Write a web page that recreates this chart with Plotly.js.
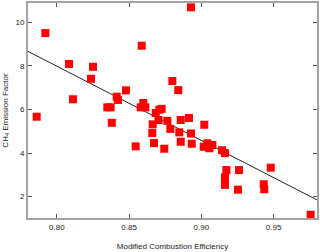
<!DOCTYPE html>
<html>
<head>
<meta charset="utf-8">
<script src="https://cdn.plot.ly/plotly-3.0.1.min.js"></script>
<style>html,body{margin:0;padding:0;background:#fff}#chart{width:320px;height:252px}</style>
</head>
<body>
<div id="chart"></div>
<script>
var mce = [0.786,0.792,0.8084,0.8111,0.825,0.8236,0.8349,0.8372,0.838,0.8414,0.8423,0.8478,0.8545,0.8587,0.858,0.8598,0.8612,0.8663,0.866,0.8672,0.8684,0.8703,0.8709,0.8725,0.8743,0.8764,0.8785,0.8799,0.884,0.8847,0.8857,0.8857,0.8914,0.8928,0.8928,0.8933,0.902,0.9016,0.9041,0.9055,0.9076,0.9143,0.9163,0.9173,0.9163,0.9163,0.926,0.9253,0.9431,0.9435,0.948,0.9756];
var ch4EF = [5.67,9.51,8.09,6.47,7.96,7.41,6.10,6.10,5.39,6.59,6.44,6.88,4.31,8.93,6.10,6.30,6.10,5.32,4.92,4.46,5.84,5.52,5.99,6.03,4.20,5.48,5.11,7.31,6.89,4.95,5.52,4.52,5.61,10.69,4.90,4.43,5.30,4.29,4.45,4.22,4.37,4.13,4.00,3.22,2.89,2.54,3.22,2.32,2.57,2.34,3.33,1.17];
var fitX = [0.78, 0.98];
var fitY = [8.67, 1.85];
var xTicks = [0.80, 0.85, 0.90, 0.95];
var xTickText = ['0.80','0.85','0.90','0.95'];
var yTicks = [2, 4, 6, 8, 10];

var axisCommon = {
  showline: true, linecolor: '#a3a3a3', linewidth: 2, mirror: 'ticks',
  ticks: 'inside', ticklen: 4, tickwidth: 1, tickcolor: '#555',
  showgrid: false, zeroline: false,
  tickfont: {family: 'Liberation Sans, Arial, sans-serif', size: 8, color: '#222'}
};
var data = [
  {x: fitX, y: fitY, mode: 'lines', type: 'scatter', line: {color: '#222', width: 1}, hoverinfo: 'skip'},
  {x: mce, y: ch4EF, mode: 'markers', type: 'scatter', marker: {symbol: 'square', size: 8, color: '#ff0000'}}
];
var layout = {
  width: 320, height: 252,
  margin: {l: 28, r: 3, t: 3, b: 34},
  paper_bgcolor: '#fff', plot_bgcolor: '#fff',
  showlegend: false,
  xaxis: Object.assign({}, axisCommon, {
    range: [0.78, 0.98], tickvals: xTicks, ticktext: xTickText,
    title: {text: 'Modified Combustion Efficiency', standoff: 13, font: {family: 'Liberation Sans, Arial, sans-serif', size: 8, color: '#222'}}
  }),
  yaxis: Object.assign({}, axisCommon, {
    range: [1.02, 10.89], tickvals: yTicks,
    title: {text: 'CH<sub>4</sub> Emission Factor', standoff: 6, font: {family: 'Liberation Sans, Arial, sans-serif', size: 8, color: '#222'}}
  })
};
Plotly.newPlot('chart', data, layout, {displayModeBar: false, staticPlot: true});
</script>
</body>
</html>
